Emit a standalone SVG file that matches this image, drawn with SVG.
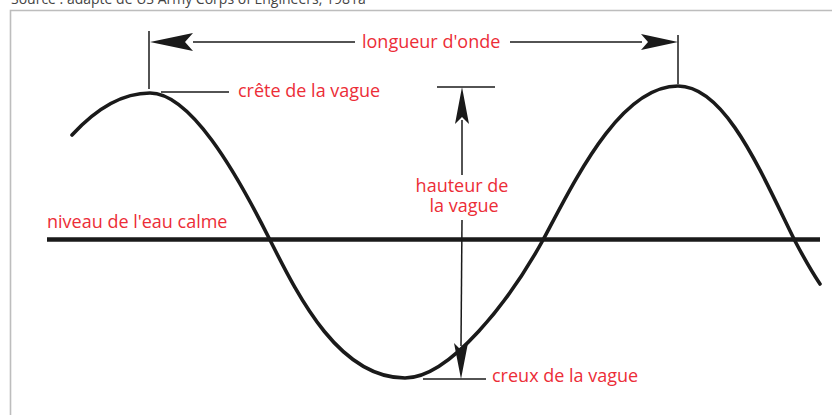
<svg xmlns="http://www.w3.org/2000/svg" width="832" height="415" viewBox="0 0 832 415">
<style>
.lbl{font-family:"Open Sans","Liberation Sans",sans-serif;font-size:18px;fill:#ec2d37}
.src{font-family:"Open Sans","Liberation Sans",sans-serif;font-size:14px;fill:#444}
.thin{stroke:#1a1a1a;stroke-width:1.5;fill:none}
.head{fill:#1a1a1a;stroke:none}
</style>
<rect width="832" height="415" fill="#fff"/>
<text class="src" x="11" y="4">Source : adapté de US Army Corps of Engineers, 1981a</text>
<path d="M10.5,415 V10.5 H832" fill="none" stroke="#bdbdbd" stroke-width="1.6"/>
<g id="water-level">
<line x1="47" y1="239.5" x2="820" y2="239.5" stroke="#1a1a1a" stroke-width="4.5"/>
<text class="lbl" x="47" y="228">niveau de l'eau calme</text>
</g>
<g id="wave">
<path d="M72,135 C95,110 120,93 150,93 C190,93 235,170 270,240 C300,300 340,378 405,378 C450,378 510,300 543,240 C575,180 620,86 678,86 C725,86 760,170 795,241 C805,260 812,272 820,284" fill="none" stroke="#1a1a1a" stroke-width="3.6" stroke-linecap="round"/>
</g>
<g id="wavelength">
<line class="thin" x1="149" y1="31" x2="149" y2="89"/>
<line class="thin" x1="678" y1="35" x2="678" y2="84"/>
<path class="head" d="M150,42 L193,33 L185,42 L193,51 Z"/>
<path class="head" d="M678,42 L641,34 L648,42 L641,50 Z"/>
<text class="lbl" x="362" y="48">longueur d'onde</text>
</g>
<g id="crest">
<line class="thin" x1="161" y1="92" x2="229" y2="92"/>
<text class="lbl" x="238" y="97">crête de la vague</text>
</g>
<g id="height">
<line class="thin" x1="437" y1="87" x2="495" y2="87"/>
<line class="thin" x1="423" y1="379" x2="486" y2="379"/>
<path class="head" d="M462,87 L469,124 L462,117 L455,124 Z"/>
<path class="head" d="M461,379 L468,343 L461,350 L454,343 Z"/>
<text class="lbl" x="462" y="192" text-anchor="middle">hauteur de</text>
<text class="lbl" x="464" y="212" text-anchor="middle">la vague</text>
</g>
<g id="trough">
<text class="lbl" x="492" y="382">creux de la vague</text>
</g>
<g id="connectors">
<line class="thin" x1="193" y1="42" x2="355" y2="42"/>
<line class="thin" x1="510" y1="42" x2="642" y2="42"/>
<line class="thin" x1="462" y1="120" x2="462" y2="175"/>
<line class="thin" x1="462" y1="220" x2="461" y2="346"/>
</g>
</svg>
